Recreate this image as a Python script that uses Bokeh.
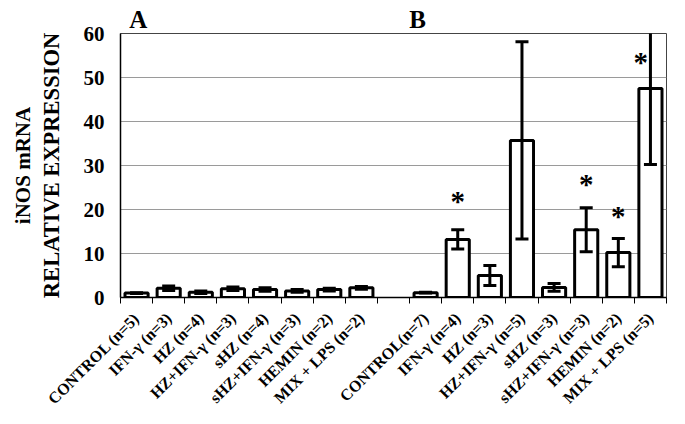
import math
from bokeh.plotting import figure
from bokeh.models import ColumnDataSource, FixedTicker, LinearAxis, Range1d
from bokeh.core.properties import value
from bokeh.embed import file_html
from bokeh.resources import INLINE

labels_a = ["CONTROL (n=5)", "IFN-γ (n=3)", "HZ (n=4)", "HZ+IFN-γ (n=3)",
            "sHZ (n=4)", "sHZ+IFN-γ (n=3)", "HEMIN (n=2)", "MIX + LPS (n=2)"]
labels_b = ["CONTROL(n=7)", "IFN-γ (n=4)", "HZ (n=3)", "HZ+IFN-γ (n=5)",
            "sHZ (n=3)", "sHZ+IFN-γ (n=3)", "HEMIN (n=2)", "MIX + LPS (n=5)"]
means_a = [1.0, 2.1, 1.2, 2.0, 1.8, 1.5, 1.8, 2.2]
errs_a = [0.1, 0.5, 0.3, 0.4, 0.4, 0.3, 0.3, 0.3]
means_b = [1.1, 13.2, 5.0, 35.7, 2.3, 15.4, 10.2, 47.5]
errs_b = [0.1, 2.2, 2.3, 22.4, 0.9, 5.0, 3.2, 17.3]
star_idx_b = [1, 5, 6, 7]
star_y = [21.9, 25.7, 18.6, 53.6]
y_ticks = [0, 10, 20, 30, 40, 50, 60]
panel_names = ["A", "B"]

FONT = "Liberation Serif"

# slots: 8 for panel A, one empty slot, 8 for panel B
slots = list(range(8)) + list(range(9, 17))
centers = [s + 0.5 for s in slots]
means = means_a + means_b
errs = errs_a + errs_b
labels = labels_a + labels_b

src = ColumnDataSource(dict(
    x=centers, top=means,
    upper=[m + e for m, e in zip(means, errs)],
    lower=[m - e for m, e in zip(means, errs)],
))

p = figure(width=669, height=416, x_range=Range1d(0, 17), y_range=Range1d(0, 60),
           output_backend="svg", toolbar_location=None,
           x_axis_location=None, y_axis_location=None,
           min_border_left=120, min_border_right=3,
           min_border_top=33, min_border_bottom=118)
p.outline_line_color = "#444444"
p.outline_line_width = 1
p.xgrid.visible = False
p.ygrid.ticker = FixedTicker(ticks=y_ticks)
p.ygrid.grid_line_color = "#9a9a9a"
p.ygrid.grid_line_width = 1

p.vbar(x="x", top="top", width=0.72, source=src, fill_color="white",
       line_color="black", line_width=3)
p.segment(x0="x", y0="lower", x1="x", y1="upper", source=src,
          line_color="black", line_width=3)
p.scatter(x="x", y="upper", source=src, marker="dash", size=13,
          line_color="black", line_width=3)
p.scatter(x="x", y="lower", source=src, marker="dash", size=13,
          line_color="black", line_width=3)

# significance stars
star_x = [centers[8 + i] for i in star_idx_b]
star_x[-1] -= 0.3
p.text(x=star_x, y=star_y, text=["*"] * len(star_x), text_font=value(FONT),
       text_font_style="bold", text_font_size="29px", text_align="center",
       text_baseline="middle", text_color="black")

# panel letters, carried by an axis above the frame
panel_x = [slots[0] + 0.55, slots[8] + 0.25]
top_axis = LinearAxis(ticker=FixedTicker(ticks=panel_x))
top_axis.major_label_overrides = {x: t for x, t in zip(panel_x, panel_names)}
top_axis.axis_line_color = None
top_axis.major_tick_line_color = None
top_axis.minor_tick_line_color = None
top_axis.major_tick_out = 0
top_axis.major_label_standoff = 1
top_axis.major_label_text_font = FONT
top_axis.major_label_text_font_style = "bold"
top_axis.major_label_text_font_size = "25px"
top_axis.major_label_text_color = "black"
p.add_layout(top_axis, "above")

# x axis: labels at bar centres, ticks at slot boundaries
xaxis = LinearAxis(ticker=FixedTicker(ticks=centers, minor_ticks=list(range(18))))
xaxis.major_label_overrides = {c: l for c, l in zip(centers, labels)}
xaxis.major_label_orientation = math.pi / 4
xaxis.major_tick_line_color = None
xaxis.major_tick_out = 6
xaxis.minor_tick_line_color = "black"
xaxis.minor_tick_out = 6
xaxis.minor_tick_in = 0
xaxis.axis_line_color = "black"
xaxis.axis_line_width = 1.5
xaxis.major_label_text_font = FONT
xaxis.major_label_text_font_style = "bold"
xaxis.major_label_text_font_size = "16px"
xaxis.major_label_text_color = "black"
xaxis.major_label_standoff = 12
p.add_layout(xaxis, "below")

yaxis = LinearAxis(ticker=FixedTicker(ticks=y_ticks), axis_label="RELATIVE EXPRESSION")
yaxis.axis_line_color = "black"
yaxis.axis_line_width = 1.5
yaxis.major_tick_line_color = None
yaxis.minor_tick_line_color = None
yaxis.major_tick_out = 0
yaxis.major_label_standoff = 16
yaxis.major_label_text_font = FONT
yaxis.major_label_text_font_style = "bold"
yaxis.major_label_text_font_size = "21px"
yaxis.major_label_text_color = "black"
yaxis.axis_label_text_font = FONT
yaxis.axis_label_text_font_style = "bold"
yaxis.axis_label_text_font_size = "22.5px"
yaxis.axis_label_text_color = "black"
yaxis.axis_label_standoff = 17
p.add_layout(yaxis, "left")

yaxis2 = LinearAxis(ticker=FixedTicker(ticks=[]), axis_label="iNOS mRNA")
yaxis2.axis_line_color = None
yaxis2.major_tick_line_color = None
yaxis2.minor_tick_line_color = None
yaxis2.major_label_text_font_size = "0px"
yaxis2.axis_label_text_font = FONT
yaxis2.axis_label_text_font_style = "bold"
yaxis2.axis_label_text_font_size = "21px"
yaxis2.axis_label_text_color = "black"
yaxis2.axis_label_standoff = 1
p.add_layout(yaxis2, "left")

open("out.html", "w").write(file_html(p, INLINE))
